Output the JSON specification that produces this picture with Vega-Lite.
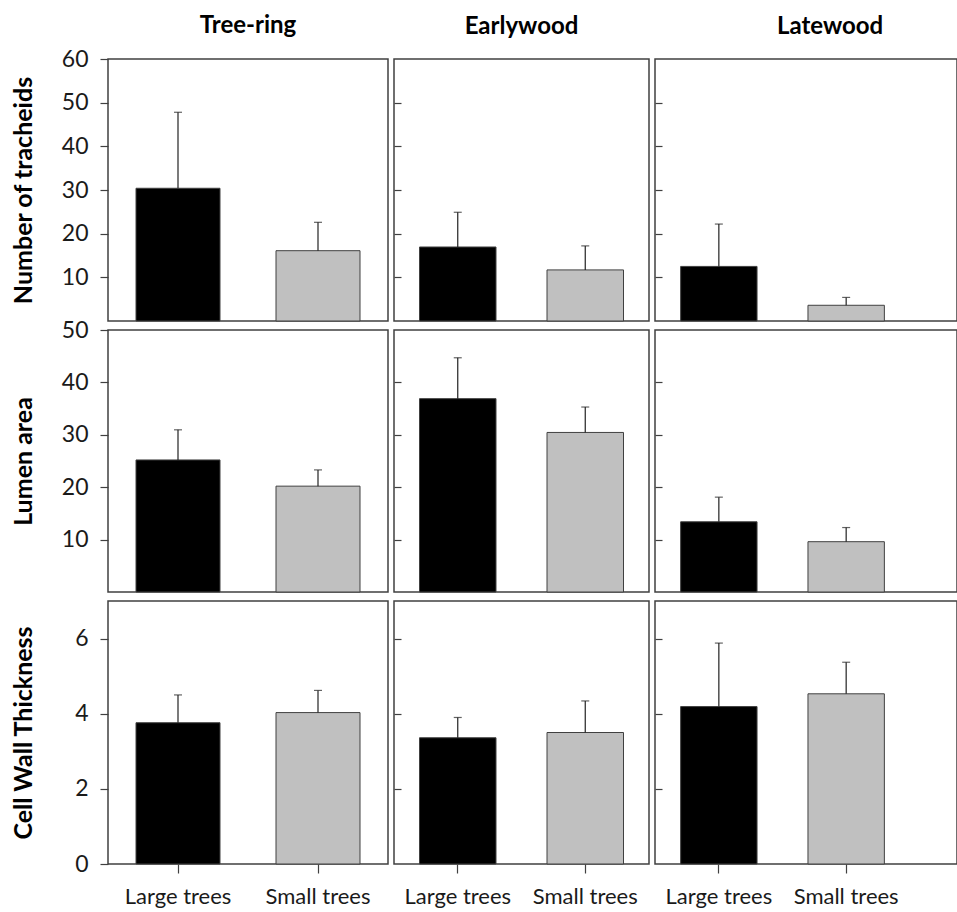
{
 "$schema": "https://vega.github.io/schema/vega-lite/v6.json",
 "padding": {"left": 10, "top": 13, "right": 0, "bottom": 0},
 "autosize": {"type": "pad"},
 "background": "white",
 "data": {"values": [
  {"measure": "Number of tracheids", "wood": "Tree-ring", "group": "Large trees", "mean": 30.4, "upper": 47.8},
  {"measure": "Number of tracheids", "wood": "Tree-ring", "group": "Small trees", "mean": 16.1, "upper": 22.6},
  {"measure": "Number of tracheids", "wood": "Earlywood", "group": "Large trees", "mean": 16.95, "upper": 24.9},
  {"measure": "Number of tracheids", "wood": "Earlywood", "group": "Small trees", "mean": 11.7, "upper": 17.2},
  {"measure": "Number of tracheids", "wood": "Latewood", "group": "Large trees", "mean": 12.5, "upper": 22.2},
  {"measure": "Number of tracheids", "wood": "Latewood", "group": "Small trees", "mean": 3.6, "upper": 5.4},
  {"measure": "Lumen area", "wood": "Tree-ring", "group": "Large trees", "mean": 25.2, "upper": 30.95},
  {"measure": "Lumen area", "wood": "Tree-ring", "group": "Small trees", "mean": 20.2, "upper": 23.3},
  {"measure": "Lumen area", "wood": "Earlywood", "group": "Large trees", "mean": 36.9, "upper": 44.7},
  {"measure": "Lumen area", "wood": "Earlywood", "group": "Small trees", "mean": 30.45, "upper": 35.3},
  {"measure": "Lumen area", "wood": "Latewood", "group": "Large trees", "mean": 13.4, "upper": 18.1},
  {"measure": "Lumen area", "wood": "Latewood", "group": "Small trees", "mean": 9.6, "upper": 12.3},
  {"measure": "Cell Wall Thickness", "wood": "Tree-ring", "group": "Large trees", "mean": 3.76, "upper": 4.5},
  {"measure": "Cell Wall Thickness", "wood": "Tree-ring", "group": "Small trees", "mean": 4.03, "upper": 4.62},
  {"measure": "Cell Wall Thickness", "wood": "Earlywood", "group": "Large trees", "mean": 3.36, "upper": 3.9},
  {"measure": "Cell Wall Thickness", "wood": "Earlywood", "group": "Small trees", "mean": 3.5, "upper": 4.34},
  {"measure": "Cell Wall Thickness", "wood": "Latewood", "group": "Large trees", "mean": 4.19, "upper": 5.88},
  {"measure": "Cell Wall Thickness", "wood": "Latewood", "group": "Small trees", "mean": 4.53, "upper": 5.37}
 ]},
 "config": {
  "font": "Lato",
  "view": {"stroke": "#404040", "strokeWidth": 1.5},
  "axis": {"labelFont": "Lato", "labelFontSize": 23, "labelColor": "#1a1a1a", "tickColor": "#404040", "tickWidth": 1.2, "domain": false, "grid": false, "titleFont": "Lato", "titleFontWeight": "bold", "titleFontSize": 25, "titleColor": "#000000"},
  "title": {"font": "Lato", "fontSize": 24, "fontWeight": "bold", "color": "#000000", "offset": 20, "frame": "group"}
 },
 "columns": 3,
 "spacing": {"row": 9, "column": 6},
 "bounds": "flush",
 "align": "each",
 "concat": [
  {
   "width": 280, "height": 262,
   "title": {"text": "Tree-ring", "frame": "group", "anchor": "middle", "offset": 10},
   "transform": [{"filter": "datum.measure === 'Number of tracheids' && datum.wood === 'Tree-ring'"}],
   "encoding": {"x": {"field": "group", "type": "nominal", "scale": {"domain": ["Large trees", "Small trees"], "paddingInner": 0.4, "paddingOuter": 0.2}, "axis": null}},
   "layer": [
    {"mark": {"type": "bar", "stroke": "#404040", "strokeWidth": 1},
     "encoding": {"y": {"field": "mean", "type": "quantitative", "scale": {"domain": [0, 60], "nice": false}, "axis": {"values": [10, 20, 30, 40, 50, 60], "tickSize": 8, "labelPadding": 12, "title": "Number of tracheids", "titleX": -85, "titleBaseline": "middle"}},
      "color": {"field": "group", "type": "nominal", "scale": {"domain": ["Large trees", "Small trees"], "range": ["#000000", "#c0c0c0"]}, "legend": null}}},
    {"mark": {"type": "rule", "color": "#222222", "strokeWidth": 1.2},
     "encoding": {"y": {"field": "mean", "type": "quantitative", "scale": {"domain": [0, 60], "nice": false}}, "y2": {"field": "upper"}}},
    {"mark": {"type": "tick", "color": "#222222", "thickness": 1.2, "size": 8},
     "encoding": {"y": {"field": "upper", "type": "quantitative", "scale": {"domain": [0, 60], "nice": false}}}}
   ]
  },
  {
   "width": 255, "height": 262,
   "title": {"text": "Earlywood", "frame": "group", "anchor": "middle", "offset": 20},
   "transform": [{"filter": "datum.measure === 'Number of tracheids' && datum.wood === 'Earlywood'"}],
   "encoding": {"x": {"field": "group", "type": "nominal", "scale": {"domain": ["Large trees", "Small trees"], "paddingInner": 0.4, "paddingOuter": 0.2}, "axis": null}},
   "layer": [
    {"mark": {"type": "bar", "stroke": "#404040", "strokeWidth": 1},
     "encoding": {"y": {"field": "mean", "type": "quantitative", "scale": {"domain": [0, 60], "nice": false}, "axis": {"values": [10, 20, 30, 40, 50], "tickSize": -7, "labels": false, "title": null}},
      "color": {"field": "group", "type": "nominal", "scale": {"domain": ["Large trees", "Small trees"], "range": ["#000000", "#c0c0c0"]}, "legend": null}}},
    {"mark": {"type": "rule", "color": "#222222", "strokeWidth": 1.2},
     "encoding": {"y": {"field": "mean", "type": "quantitative", "scale": {"domain": [0, 60], "nice": false}}, "y2": {"field": "upper"}}},
    {"mark": {"type": "tick", "color": "#222222", "thickness": 1.2, "size": 8},
     "encoding": {"y": {"field": "upper", "type": "quantitative", "scale": {"domain": [0, 60], "nice": false}}}}
   ]
  },
  {
   "width": 302, "height": 262,
   "title": {"text": "Latewood", "frame": "group", "anchor": "start", "dx": 122, "offset": 20},
   "transform": [{"filter": "datum.measure === 'Number of tracheids' && datum.wood === 'Latewood'"}],
   "encoding": {"x": {"field": "group", "type": "nominal", "scale": {"domain": ["Large trees", "Small trees"], "paddingInner": 0.4, "paddingOuter": 0.386, "align": 0.261}, "axis": null}},
   "layer": [
    {"mark": {"type": "bar", "stroke": "#404040", "strokeWidth": 1},
     "encoding": {"y": {"field": "mean", "type": "quantitative", "scale": {"domain": [0, 60], "nice": false}, "axis": {"values": [10, 20, 30, 40, 50], "tickSize": -7, "labels": false, "title": null}},
      "color": {"field": "group", "type": "nominal", "scale": {"domain": ["Large trees", "Small trees"], "range": ["#000000", "#c0c0c0"]}, "legend": null}}},
    {"mark": {"type": "rule", "color": "#222222", "strokeWidth": 1.2},
     "encoding": {"y": {"field": "mean", "type": "quantitative", "scale": {"domain": [0, 60], "nice": false}}, "y2": {"field": "upper"}}},
    {"mark": {"type": "tick", "color": "#222222", "thickness": 1.2, "size": 8},
     "encoding": {"y": {"field": "upper", "type": "quantitative", "scale": {"domain": [0, 60], "nice": false}}}}
   ]
  },
  {
   "width": 280, "height": 262,
   "transform": [{"filter": "datum.measure === 'Lumen area' && datum.wood === 'Tree-ring'"}],
   "encoding": {"x": {"field": "group", "type": "nominal", "scale": {"domain": ["Large trees", "Small trees"], "paddingInner": 0.4, "paddingOuter": 0.2}, "axis": null}},
   "layer": [
    {"mark": {"type": "bar", "stroke": "#404040", "strokeWidth": 1},
     "encoding": {"y": {"field": "mean", "type": "quantitative", "scale": {"domain": [0, 50], "nice": false}, "axis": {"values": [10, 20, 30, 40, 50], "tickSize": 8, "labelPadding": 12, "title": "Lumen area", "titleX": -85, "titleBaseline": "middle"}},
      "color": {"field": "group", "type": "nominal", "scale": {"domain": ["Large trees", "Small trees"], "range": ["#000000", "#c0c0c0"]}, "legend": null}}},
    {"mark": {"type": "rule", "color": "#222222", "strokeWidth": 1.2},
     "encoding": {"y": {"field": "mean", "type": "quantitative", "scale": {"domain": [0, 50], "nice": false}}, "y2": {"field": "upper"}}},
    {"mark": {"type": "tick", "color": "#222222", "thickness": 1.2, "size": 8},
     "encoding": {"y": {"field": "upper", "type": "quantitative", "scale": {"domain": [0, 50], "nice": false}}}}
   ]
  },
  {
   "width": 255, "height": 262,
   "transform": [{"filter": "datum.measure === 'Lumen area' && datum.wood === 'Earlywood'"}],
   "encoding": {"x": {"field": "group", "type": "nominal", "scale": {"domain": ["Large trees", "Small trees"], "paddingInner": 0.4, "paddingOuter": 0.2}, "axis": null}},
   "layer": [
    {"mark": {"type": "bar", "stroke": "#404040", "strokeWidth": 1},
     "encoding": {"y": {"field": "mean", "type": "quantitative", "scale": {"domain": [0, 50], "nice": false}, "axis": {"values": [10, 20, 30, 40], "tickSize": -7, "labels": false, "title": null}},
      "color": {"field": "group", "type": "nominal", "scale": {"domain": ["Large trees", "Small trees"], "range": ["#000000", "#c0c0c0"]}, "legend": null}}},
    {"mark": {"type": "rule", "color": "#222222", "strokeWidth": 1.2},
     "encoding": {"y": {"field": "mean", "type": "quantitative", "scale": {"domain": [0, 50], "nice": false}}, "y2": {"field": "upper"}}},
    {"mark": {"type": "tick", "color": "#222222", "thickness": 1.2, "size": 8},
     "encoding": {"y": {"field": "upper", "type": "quantitative", "scale": {"domain": [0, 50], "nice": false}}}}
   ]
  },
  {
   "width": 302, "height": 262,
   "transform": [{"filter": "datum.measure === 'Lumen area' && datum.wood === 'Latewood'"}],
   "encoding": {"x": {"field": "group", "type": "nominal", "scale": {"domain": ["Large trees", "Small trees"], "paddingInner": 0.4, "paddingOuter": 0.386, "align": 0.261}, "axis": null}},
   "layer": [
    {"mark": {"type": "bar", "stroke": "#404040", "strokeWidth": 1},
     "encoding": {"y": {"field": "mean", "type": "quantitative", "scale": {"domain": [0, 50], "nice": false}, "axis": {"values": [10, 20, 30, 40], "tickSize": -7, "labels": false, "title": null}},
      "color": {"field": "group", "type": "nominal", "scale": {"domain": ["Large trees", "Small trees"], "range": ["#000000", "#c0c0c0"]}, "legend": null}}},
    {"mark": {"type": "rule", "color": "#222222", "strokeWidth": 1.2},
     "encoding": {"y": {"field": "mean", "type": "quantitative", "scale": {"domain": [0, 50], "nice": false}}, "y2": {"field": "upper"}}},
    {"mark": {"type": "tick", "color": "#222222", "thickness": 1.2, "size": 8},
     "encoding": {"y": {"field": "upper", "type": "quantitative", "scale": {"domain": [0, 50], "nice": false}}}}
   ]
  },
  {
   "width": 280, "height": 263,
   "transform": [{"filter": "datum.measure === 'Cell Wall Thickness' && datum.wood === 'Tree-ring'"}],
   "encoding": {"x": {"field": "group", "type": "nominal", "scale": {"domain": ["Large trees", "Small trees"], "paddingInner": 0.4, "paddingOuter": 0.2}, "axis": {"title": null, "labelAngle": 0, "labelFontSize": 22, "tickSize": 9, "labelPadding": 13}}},
   "layer": [
    {"mark": {"type": "bar", "stroke": "#404040", "strokeWidth": 1},
     "encoding": {"y": {"field": "mean", "type": "quantitative", "scale": {"domain": [0, 7], "nice": false}, "axis": {"values": [0, 2, 4, 6], "tickSize": 8, "labelPadding": 12, "title": "Cell Wall Thickness", "titleX": -85, "titleBaseline": "middle"}},
      "color": {"field": "group", "type": "nominal", "scale": {"domain": ["Large trees", "Small trees"], "range": ["#000000", "#c0c0c0"]}, "legend": null}}},
    {"mark": {"type": "rule", "color": "#222222", "strokeWidth": 1.2},
     "encoding": {"y": {"field": "mean", "type": "quantitative", "scale": {"domain": [0, 7], "nice": false}}, "y2": {"field": "upper"}}},
    {"mark": {"type": "tick", "color": "#222222", "thickness": 1.2, "size": 8},
     "encoding": {"y": {"field": "upper", "type": "quantitative", "scale": {"domain": [0, 7], "nice": false}}}}
   ]
  },
  {
   "width": 255, "height": 263,
   "transform": [{"filter": "datum.measure === 'Cell Wall Thickness' && datum.wood === 'Earlywood'"}],
   "encoding": {"x": {"field": "group", "type": "nominal", "scale": {"domain": ["Large trees", "Small trees"], "paddingInner": 0.4, "paddingOuter": 0.2}, "axis": {"title": null, "labelAngle": 0, "labelFontSize": 22, "tickSize": 9, "labelPadding": 13}}},
   "layer": [
    {"mark": {"type": "bar", "stroke": "#404040", "strokeWidth": 1},
     "encoding": {"y": {"field": "mean", "type": "quantitative", "scale": {"domain": [0, 7], "nice": false}, "axis": {"values": [2, 4, 6], "tickSize": -7, "labels": false, "title": null}},
      "color": {"field": "group", "type": "nominal", "scale": {"domain": ["Large trees", "Small trees"], "range": ["#000000", "#c0c0c0"]}, "legend": null}}},
    {"mark": {"type": "rule", "color": "#222222", "strokeWidth": 1.2},
     "encoding": {"y": {"field": "mean", "type": "quantitative", "scale": {"domain": [0, 7], "nice": false}}, "y2": {"field": "upper"}}},
    {"mark": {"type": "tick", "color": "#222222", "thickness": 1.2, "size": 8},
     "encoding": {"y": {"field": "upper", "type": "quantitative", "scale": {"domain": [0, 7], "nice": false}}}}
   ]
  },
  {
   "width": 302, "height": 263,
   "transform": [{"filter": "datum.measure === 'Cell Wall Thickness' && datum.wood === 'Latewood'"}],
   "encoding": {"x": {"field": "group", "type": "nominal", "scale": {"domain": ["Large trees", "Small trees"], "paddingInner": 0.4, "paddingOuter": 0.386, "align": 0.261}, "axis": {"title": null, "labelAngle": 0, "labelFontSize": 22, "tickSize": 9, "labelPadding": 13}}},
   "layer": [
    {"mark": {"type": "bar", "stroke": "#404040", "strokeWidth": 1},
     "encoding": {"y": {"field": "mean", "type": "quantitative", "scale": {"domain": [0, 7], "nice": false}, "axis": {"values": [2, 4, 6], "tickSize": -7, "labels": false, "title": null}},
      "color": {"field": "group", "type": "nominal", "scale": {"domain": ["Large trees", "Small trees"], "range": ["#000000", "#c0c0c0"]}, "legend": null}}},
    {"mark": {"type": "rule", "color": "#222222", "strokeWidth": 1.2},
     "encoding": {"y": {"field": "mean", "type": "quantitative", "scale": {"domain": [0, 7], "nice": false}}, "y2": {"field": "upper"}}},
    {"mark": {"type": "tick", "color": "#222222", "thickness": 1.2, "size": 8},
     "encoding": {"y": {"field": "upper", "type": "quantitative", "scale": {"domain": [0, 7], "nice": false}}}}
   ]
  }
 ]
}
